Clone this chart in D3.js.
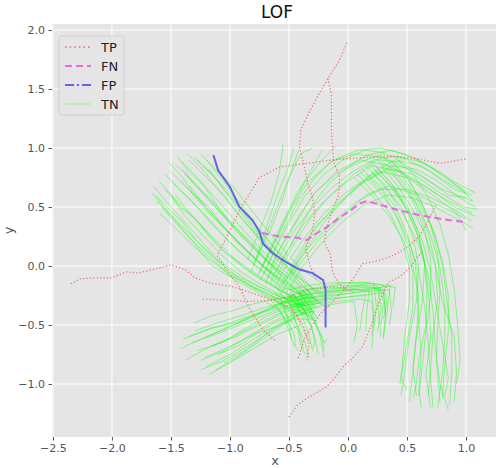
<!DOCTYPE html>
<html><head><meta charset="utf-8">
<script src="https://cdn.jsdelivr.net/npm/d3@7"></script>
<style>body{margin:0;background:#fff;}svg{display:block;font-family:"DejaVu Sans",sans-serif;}</style>
</head><body><svg id="c" width="496" height="468"></svg>
<script>
// ---- data ----
const xTicks = [-2.5,-2.0,-1.5,-1.0,-0.5,0.0,0.5,1.0];
const yTicks = [-1.0,-0.5,0.0,0.5,1.0,1.5,2.0];
const legendLabels = ["TP","FN","FP","TN"];

const fpTrack = [[-1.14,0.94],[-1.10,0.81],[-1.0,0.67],[-0.92,0.5],[-0.81,0.39],[-0.75,0.29],[-0.72,0.19],[-0.64,0.11],[-0.52,0.03],[-0.41,-0.03],[-0.3,-0.06],[-0.21,-0.12],[-0.19,-0.2],[-0.19,-0.31],[-0.19,-0.52]];
const fnTrack = [[-0.73,0.28],[-0.58,0.25],[-0.43,0.24],[-0.35,0.22],[-0.26,0.28],[-0.18,0.33],[-0.07,0.41],[0.02,0.47],[0.1,0.53],[0.16,0.55],[0.27,0.52],[0.44,0.47],[0.61,0.43],[0.78,0.4],[1.01,0.37]];

const tpTracks = [
 [[-2.35,-0.15],[-2.27,-0.11],[-2.18,-0.1],[-2.0,-0.1],[-1.88,-0.05],[-1.78,-0.06],[-1.65,-0.03],[-1.5,0.01],[-1.38,-0.03],[-1.3,-0.1],[-1.15,-0.15],[-1.0,-0.17],[-0.9,-0.2],[-0.75,-0.25],[-0.6,-0.3],[-0.48,-0.36],[-0.38,-0.5],[-0.33,-0.66],[-0.35,-0.8]],
 [[-1.23,-0.28],[-1.03,-0.29],[-0.83,-0.3],[-0.64,-0.29],[-0.49,-0.26],[-0.35,-0.2],[-0.18,-0.18],[-0.07,-0.18],[0.05,-0.22]],
 [[-0.62,-0.63],[-0.72,-0.54],[-0.83,-0.37],[-0.92,-0.18],[-1.03,-0.03],[-1.11,0.09],[-1.04,0.22],[-0.92,0.47],[-0.75,0.75],[-0.58,0.84],[-0.35,0.87],[-0.13,0.9],[0.16,0.92],[0.38,0.93],[0.58,0.91],[0.78,0.87],[1.01,0.91]],
 [[-0.01,1.89],[-0.08,1.73],[-0.17,1.59],[-0.25,1.45],[-0.33,1.3],[-0.4,1.15],[-0.41,1.0],[-0.37,0.85],[-0.34,0.7],[-0.3,0.58],[-0.28,0.45],[-0.3,0.3],[-0.36,0.15],[-0.32,0.0],[-0.27,-0.12]],
 [[-0.17,1.59],[-0.14,1.45],[-0.14,1.3],[-0.14,1.15],[-0.13,1.0],[-0.12,0.88],[-0.07,0.75],[-0.08,0.6],[-0.14,0.45],[-0.18,0.33],[-0.2,0.2],[-0.15,0.1],[-0.13,-0.05],[-0.08,-0.15],[-0.03,-0.18]],
 [[-0.5,-1.28],[-0.43,-1.18],[-0.36,-1.13],[-0.28,-1.08],[-0.19,-1.03],[-0.13,-0.97],[-0.03,-0.84],[0.02,-0.8],[0.12,-0.69],[0.19,-0.52],[0.27,-0.29],[0.34,-0.14],[0.44,-0.09],[0.53,-0.01],[0.59,0.08],[0.63,0.11]],
 [[-0.42,-0.78],[-0.37,-0.62],[-0.3,-0.5],[-0.23,-0.4],[-0.15,-0.32],[-0.05,-0.22],[0.05,-0.1],[0.12,0.02],[0.19,0.03],[0.27,0.05],[0.36,0.08],[0.44,0.12],[0.5,0.16],[0.55,0.2],[0.61,0.26],[0.67,0.36],[0.71,0.45],[0.75,0.53]]
];

// TN: upper-left bundle
const tnUpperLeft = [
 [[-1.65,0.68],[-1.5,0.5],[-1.3,0.28],[-1.1,0.05],[-0.85,-0.12],[-0.6,-0.25],[-0.4,-0.33]],
 [[-1.6,0.72],[-1.45,0.55],[-1.25,0.35],[-1.05,0.12],[-0.8,-0.05],[-0.55,-0.22],[-0.35,-0.3]],
 [[-1.55,0.78],[-1.4,0.62],[-1.2,0.42],[-1.0,0.2],[-0.78,0.0],[-0.55,-0.18],[-0.3,-0.28]],
 [[-1.5,0.8],[-1.35,0.65],[-1.18,0.45],[-0.98,0.25],[-0.75,0.02],[-0.5,-0.2],[-0.35,-0.4]],
 [[-1.45,0.85],[-1.3,0.7],[-1.12,0.5],[-0.95,0.3],[-0.7,0.05],[-0.5,-0.15],[-0.25,-0.3]],
 [[-1.4,0.88],[-1.25,0.72],[-1.1,0.55],[-0.9,0.32],[-0.68,0.08],[-0.45,-0.12],[-0.28,-0.35]],
 [[-1.35,0.9],[-1.2,0.75],[-1.05,0.6],[-0.88,0.38],[-0.65,0.12],[-0.45,-0.08],[-0.2,-0.25]],
 [[-1.3,0.92],[-1.18,0.8],[-1.0,0.62],[-0.85,0.42],[-0.62,0.15],[-0.42,-0.05],[-0.3,-0.2]],
 [[-1.25,0.95],[-1.12,0.82],[-0.98,0.68],[-0.8,0.45],[-0.6,0.2],[-0.42,0.0],[-0.22,-0.15]],
 [[-1.62,0.55],[-1.45,0.38],[-1.25,0.18],[-1.05,-0.02],[-0.8,-0.18],[-0.55,-0.3],[-0.35,-0.38]],
 [[-1.58,0.5],[-1.4,0.3],[-1.2,0.1],[-1.0,-0.08],[-0.75,-0.2],[-0.5,-0.32],[-0.3,-0.45]],
 [[-1.66,0.62],[-1.52,0.45],[-1.35,0.25],[-1.15,0.0],[-0.9,-0.15],[-0.65,-0.28],[-0.45,-0.4]],
 [[-1.48,0.7],[-1.32,0.55],[-1.15,0.35],[-0.95,0.15],[-0.72,-0.05],[-0.5,-0.25],[-0.32,-0.5]],
 [[-1.38,0.78],[-1.22,0.6],[-1.05,0.42],[-0.85,0.2],[-0.62,-0.02],[-0.42,-0.22],[-0.25,-0.45]],
 [[-1.2,0.9],[-1.08,0.75],[-0.95,0.58],[-0.78,0.35],[-0.58,0.1],[-0.4,-0.1],[-0.28,-0.3]],
 [[-1.42,0.72],[-1.28,0.58],[-1.1,0.38],[-0.92,0.18],[-0.7,-0.02],[-0.48,-0.2],[-0.3,-0.32]],
 [[-1.63,0.6],[-1.52,0.48],[-1.4,0.37],[-1.27,0.2],[-1.12,0.06],[-0.95,-0.08],[-0.75,-0.18],[-0.55,-0.27],[-0.38,-0.3]],
 [[-1.55,0.65],[-1.42,0.5],[-1.3,0.4],[-1.15,0.22],[-1.0,0.08],[-0.82,-0.06],[-0.62,-0.18],[-0.45,-0.28],[-0.3,-0.38]],
 [[-1.52,0.88],[-1.4,0.75],[-1.3,0.6],[-1.18,0.5],[-1.05,0.33],[-0.9,0.18],[-0.72,0.0],[-0.55,-0.12],[-0.38,-0.25]],
 [[-1.44,0.92],[-1.35,0.8],[-1.22,0.68],[-1.1,0.5],[-0.98,0.35],[-0.82,0.2],[-0.66,0.02],[-0.5,-0.1],[-0.33,-0.22]],
 [[-1.36,0.95],[-1.25,0.84],[-1.14,0.7],[-1.02,0.55],[-0.9,0.4],[-0.75,0.22],[-0.6,0.05],[-0.45,-0.1],[-0.3,-0.25]],
 [[-1.28,0.9],[-1.15,0.78],[-1.05,0.65],[-0.92,0.5],[-0.8,0.33],[-0.66,0.15],[-0.5,-0.02],[-0.35,-0.15],[-0.2,-0.28]],
 [[-1.6,0.45],[-1.46,0.32],[-1.32,0.18],[-1.18,0.06],[-1.02,-0.06],[-0.85,-0.16],[-0.68,-0.25],[-0.5,-0.35],[-0.33,-0.42]],
 [[-1.46,0.6],[-1.34,0.45],[-1.2,0.3],[-1.06,0.16],[-0.9,0.0],[-0.72,-0.12],[-0.55,-0.22],[-0.4,-0.35],[-0.27,-0.48]],
 [[-1.34,0.68],[-1.22,0.52],[-1.08,0.36],[-0.95,0.22],[-0.8,0.08],[-0.62,-0.08],[-0.45,-0.2],[-0.3,-0.3],[-0.15,-0.35]],
 [[-1.18,0.82],[-1.06,0.66],[-0.94,0.5],[-0.82,0.33],[-0.68,0.16],[-0.52,0.0],[-0.4,-0.15],[-0.25,-0.3]],
 [[-1.5,0.6],[-1.38,0.42],[-1.22,0.25],[-1.08,0.1],[-0.92,-0.04],[-0.75,-0.15],[-0.58,-0.24],[-0.42,-0.34],[-0.28,-0.4]],
 [[-1.4,0.82],[-1.3,0.7],[-1.16,0.56],[-1.02,0.4],[-0.88,0.25],[-0.72,0.08],[-0.56,-0.06],[-0.4,-0.2],[-0.22,-0.32]]
];
// TN: lower-left bundle
const tnLowerLeft = [
 [[-1.3,-0.55],[-1.1,-0.48],[-0.9,-0.42],[-0.7,-0.35],[-0.5,-0.3],[-0.3,-0.25]],
 [[-1.32,-0.65],[-1.12,-0.58],[-0.92,-0.5],[-0.72,-0.42],[-0.52,-0.34],[-0.32,-0.3]],
 [[-1.28,-0.72],[-1.08,-0.65],[-0.88,-0.55],[-0.68,-0.45],[-0.48,-0.35],[-0.28,-0.32]],
 [[-1.25,-0.8],[-1.05,-0.72],[-0.85,-0.6],[-0.65,-0.48],[-0.45,-0.38],[-0.25,-0.35]],
 [[-1.25,-0.88],[-1.05,-0.8],[-0.85,-0.68],[-0.65,-0.55],[-0.45,-0.42],[-0.3,-0.38]],
 [[-1.2,-0.85],[-1.0,-0.75],[-0.8,-0.62],[-0.6,-0.5],[-0.42,-0.38],[-0.22,-0.3]],
 [[-1.15,-0.68],[-0.95,-0.6],[-0.75,-0.5],[-0.55,-0.4],[-0.35,-0.33]],
 [[-1.35,-0.6],[-1.15,-0.52],[-0.95,-0.48],[-0.75,-0.4],[-0.55,-0.32],[-0.35,-0.27]],
 [[-1.22,-0.78],[-1.0,-0.68],[-0.8,-0.58],[-0.62,-0.52],[-0.45,-0.45],[-0.3,-0.45]],
 [[-1.18,-0.92],[-1.0,-0.82],[-0.8,-0.7],[-0.6,-0.58],[-0.4,-0.5]],
 [[-1.42,-0.7],[-1.25,-0.62],[-1.08,-0.55],[-0.9,-0.47],[-0.72,-0.38],[-0.55,-0.3],[-0.38,-0.25]],
 [[-1.38,-0.8],[-1.2,-0.7],[-1.02,-0.62],[-0.85,-0.52],[-0.68,-0.42],[-0.5,-0.35],[-0.35,-0.3]],
 [[-1.3,-0.48],[-1.15,-0.42],[-0.98,-0.38],[-0.8,-0.32],[-0.62,-0.28],[-0.45,-0.25]],
 [[-1.12,-0.88],[-0.95,-0.78],[-0.78,-0.66],[-0.62,-0.55],[-0.48,-0.45],[-0.35,-0.38]],
 [[-1.2,-0.6],[-1.02,-0.52],[-0.85,-0.45],[-0.68,-0.38],[-0.5,-0.33],[-0.32,-0.32]],
 [[-1.05,-0.82],[-0.88,-0.72],[-0.72,-0.6],[-0.58,-0.5],[-0.42,-0.42],[-0.28,-0.38]],
 [[-1.4,-0.62],[-1.22,-0.55],[-1.05,-0.5],[-0.88,-0.44],[-0.7,-0.38],[-0.52,-0.3]],
 [[-1.1,-0.75],[-0.92,-0.67],[-0.76,-0.56],[-0.6,-0.47],[-0.44,-0.4],[-0.3,-0.36]]
];
// TN: downward from the junction
const tnDown = [
 [[-0.6,-0.2],[-0.5,-0.3],[-0.45,-0.45],[-0.4,-0.6],[-0.38,-0.7]],
 [[-0.55,-0.18],[-0.45,-0.3],[-0.38,-0.45],[-0.33,-0.58],[-0.3,-0.72]],
 [[-0.5,-0.22],[-0.4,-0.32],[-0.32,-0.48],[-0.28,-0.62],[-0.25,-0.75]],
 [[-0.65,-0.25],[-0.55,-0.35],[-0.5,-0.48],[-0.45,-0.6],[-0.45,-0.68]],
 [[-0.45,-0.25],[-0.35,-0.35],[-0.28,-0.48],[-0.22,-0.6],[-0.2,-0.72]],
 [[-0.58,-0.3],[-0.48,-0.4],[-0.42,-0.52],[-0.36,-0.66],[-0.33,-0.78]],
 [[-0.7,-0.3],[-0.58,-0.38],[-0.5,-0.5],[-0.48,-0.62]],
 [[-0.4,-0.28],[-0.32,-0.4],[-0.25,-0.55],[-0.2,-0.65],[-0.18,-0.62]],
 [[-0.62,-0.22],[-0.55,-0.32],[-0.5,-0.45],[-0.42,-0.55],[-0.4,-0.68],[-0.36,-0.75]],
 [[-0.48,-0.2],[-0.42,-0.3],[-0.35,-0.42],[-0.3,-0.55],[-0.28,-0.65],[-0.3,-0.7]],
 [[-0.55,-0.25],[-0.46,-0.36],[-0.4,-0.5],[-0.35,-0.6],[-0.32,-0.65]],
 [[-0.42,-0.22],[-0.34,-0.32],[-0.28,-0.45],[-0.24,-0.58],[-0.22,-0.68],[-0.2,-0.78]],
 [[-0.66,-0.28],[-0.56,-0.4],[-0.5,-0.55],[-0.46,-0.66],[-0.42,-0.72]]
];
// TN: horizontal, hooking down
const tnRightLow = [
 [[-0.5,-0.25],[-0.3,-0.2],[-0.1,-0.17],[0.1,-0.16],[0.25,-0.17],[0.28,-0.35],[0.25,-0.55]],
 [[-0.45,-0.3],[-0.25,-0.25],[-0.05,-0.2],[0.15,-0.18],[0.3,-0.2],[0.32,-0.4],[0.3,-0.6]],
 [[-0.55,-0.28],[-0.35,-0.24],[-0.15,-0.22],[0.05,-0.2],[0.2,-0.22],[0.22,-0.4],[0.2,-0.6]],
 [[-0.5,-0.32],[-0.3,-0.3],[-0.1,-0.25],[0.1,-0.22],[0.35,-0.2],[0.37,-0.38],[0.35,-0.5]],
 [[-0.45,-0.22],[-0.25,-0.18],[-0.05,-0.15],[0.15,-0.14],[0.3,-0.16],[0.33,-0.3],[0.3,-0.45]],
 [[-0.48,-0.35],[-0.28,-0.32],[-0.08,-0.3],[0.1,-0.28],[0.2,-0.3],[0.22,-0.5],[0.2,-0.7]],
 [[-0.52,-0.27],[-0.3,-0.27],[-0.1,-0.23],[0.08,-0.2],[0.28,-0.18],[0.25,-0.3],[0.28,-0.6]],
 [[-0.4,-0.3],[-0.2,-0.28],[0.0,-0.26],[0.15,-0.24],[0.12,-0.4],[0.1,-0.55]],
 [[-0.42,-0.24],[-0.22,-0.2],[-0.02,-0.18],[0.18,-0.15],[0.4,-0.18],[0.38,-0.35]],
 [[-0.5,-0.3],[-0.3,-0.35],[-0.1,-0.32],[0.05,-0.3],[0.08,-0.5],[0.05,-0.65]],
 [[-0.46,-0.27],[-0.26,-0.22],[-0.06,-0.19],[0.12,-0.17],[0.27,-0.19],[0.3,-0.3],[0.28,-0.5]],
 [[-0.5,-0.2],[-0.3,-0.16],[-0.1,-0.14],[0.08,-0.14],[0.22,-0.15],[0.24,-0.35],[0.22,-0.52]],
 [[-0.44,-0.33],[-0.24,-0.3],[-0.04,-0.27],[0.14,-0.25],[0.3,-0.22],[0.32,-0.45],[0.3,-0.62]],
 [[-0.55,-0.3],[-0.35,-0.28],[-0.15,-0.25],[0.03,-0.23],[0.18,-0.2],[0.16,-0.38],[0.15,-0.55]],
 [[-0.4,-0.26],[-0.2,-0.22],[0.0,-0.2],[0.2,-0.2],[0.36,-0.16],[0.34,-0.3],[0.33,-0.42]]
];
// TN: arc going up and to the right
const tnArc = [
 [[-0.7,-0.15],[-0.6,0.1],[-0.45,0.35],[-0.3,0.6],[-0.1,0.8],[0.1,0.9],[0.35,0.85],[0.6,0.7],[0.85,0.55],[1.05,0.45]],
 [[-0.65,-0.1],[-0.52,0.12],[-0.38,0.35],[-0.2,0.55],[0.0,0.72],[0.2,0.85],[0.45,0.8],[0.7,0.65],[0.9,0.5],[1.08,0.42]],
 [[-0.75,-0.05],[-0.62,0.2],[-0.5,0.45],[-0.35,0.7],[-0.15,0.88],[0.05,0.95],[0.3,0.92],[0.55,0.8],[0.8,0.65],[1.05,0.55]],
 [[-0.6,-0.2],[-0.45,0.05],[-0.3,0.3],[-0.12,0.5],[0.08,0.68],[0.28,0.8],[0.5,0.75],[0.72,0.6],[0.92,0.45],[1.0,0.3]],
 [[-0.55,-0.15],[-0.4,0.1],[-0.25,0.35],[-0.05,0.55],[0.15,0.72],[0.35,0.82],[0.55,0.78],[0.78,0.62],[0.98,0.5],[1.1,0.48]],
 [[-0.8,0.0],[-0.7,0.25],[-0.6,0.5],[-0.5,0.75],[-0.4,0.95],[-0.3,1.0]],
 [[-0.78,0.05],[-0.66,0.3],[-0.56,0.55],[-0.48,0.8],[-0.42,0.98]],
 [[-0.72,0.0],[-0.6,0.25],[-0.48,0.5],[-0.36,0.72],[-0.22,0.9],[-0.1,1.02]],
 [[-0.68,-0.05],[-0.55,0.2],[-0.42,0.42],[-0.28,0.62],[-0.1,0.78],[0.1,0.88],[0.3,0.95],[0.5,0.9],[0.7,0.8],[0.9,0.65],[1.05,0.6]],
 [[-0.62,-0.12],[-0.48,0.15],[-0.32,0.4],[-0.15,0.6],[0.05,0.78],[0.25,0.9],[0.45,0.88],[0.65,0.75],[0.85,0.6],[1.0,0.58]],
 [[-0.58,-0.25],[-0.42,0.0],[-0.25,0.22],[-0.05,0.42],[0.15,0.6],[0.35,0.68],[0.6,0.6],[0.8,0.5],[1.0,0.4]],
 [[-0.85,0.05],[-0.75,0.3],[-0.65,0.55],[-0.58,0.8],[-0.55,1.03]],
 [[-0.5,-0.1],[-0.35,0.15],[-0.18,0.4],[0.0,0.6],[0.2,0.78],[0.4,0.9],[0.62,0.85],[0.82,0.72],[1.0,0.62]],
 [[-0.68,-0.1],[-0.56,0.12],[-0.44,0.32],[-0.3,0.5],[-0.14,0.66],[0.04,0.8],[0.22,0.9],[0.42,0.93],[0.62,0.88],[0.8,0.78],[0.96,0.65],[1.06,0.55]],
 [[-0.62,-0.18],[-0.5,0.05],[-0.36,0.25],[-0.2,0.45],[-0.02,0.62],[0.18,0.76],[0.38,0.85],[0.58,0.82],[0.76,0.72],[0.94,0.58],[1.08,0.5]],
 [[-0.74,-0.12],[-0.64,0.1],[-0.54,0.32],[-0.42,0.55],[-0.28,0.75],[-0.12,0.9],[0.08,0.98],[0.28,1.0],[0.48,0.95],[0.68,0.85],[0.86,0.72],[1.02,0.62]],
 [[-0.58,-0.2],[-0.44,0.02],[-0.28,0.22],[-0.1,0.4],[0.08,0.55],[0.28,0.65],[0.5,0.65],[0.7,0.58],[0.9,0.48],[1.05,0.38]],
 [[-0.82,-0.05],[-0.74,0.18],[-0.66,0.42],[-0.58,0.65],[-0.5,0.85],[-0.46,1.0]],
 [[-0.76,-0.08],[-0.66,0.15],[-0.55,0.38],[-0.44,0.6],[-0.32,0.8],[-0.22,0.98]],
 [[-0.66,-0.15],[-0.54,0.08],[-0.42,0.3],[-0.3,0.52],[-0.16,0.7],[0.0,0.84],[0.16,0.94],[0.36,0.98],[0.56,0.92],[0.74,0.82],[0.92,0.7],[1.08,0.62]],
 [[-0.52,-0.22],[-0.38,0.0],[-0.22,0.2],[-0.04,0.38],[0.14,0.52],[0.34,0.6],[0.54,0.58],[0.74,0.5],[0.92,0.4],[1.06,0.32]],
 [[-0.7,-0.05],[-0.6,0.18],[-0.48,0.4],[-0.36,0.6],[-0.2,0.78],[-0.04,0.9],[0.14,0.98],[0.32,0.96]]
];
// TN: right bundle going down
const tnRightDown = [
 [[0.15,0.85],[0.3,0.7],[0.45,0.5],[0.55,0.25],[0.6,0.0],[0.58,-0.3],[0.52,-0.6],[0.48,-0.9],[0.45,-1.1]],
 [[0.2,0.88],[0.35,0.72],[0.5,0.52],[0.6,0.28],[0.65,0.02],[0.63,-0.3],[0.58,-0.6],[0.55,-0.9],[0.52,-1.15]],
 [[0.25,0.9],[0.4,0.75],[0.55,0.55],[0.65,0.3],[0.7,0.05],[0.7,-0.25],[0.66,-0.55],[0.63,-0.85],[0.6,-1.1]],
 [[0.1,0.8],[0.25,0.65],[0.4,0.45],[0.52,0.2],[0.6,-0.05],[0.65,-0.35],[0.68,-0.65],[0.7,-0.95],[0.72,-1.2]],
 [[0.3,0.92],[0.45,0.78],[0.58,0.58],[0.7,0.35],[0.76,0.1],[0.78,-0.2],[0.76,-0.5],[0.75,-0.8],[0.78,-1.15]],
 [[0.35,0.9],[0.5,0.75],[0.62,0.55],[0.72,0.3],[0.8,0.05],[0.85,-0.25],[0.85,-0.55],[0.82,-0.85],[0.8,-1.12]],
 [[0.2,0.8],[0.35,0.62],[0.48,0.42],[0.6,0.18],[0.68,-0.08],[0.72,-0.38],[0.74,-0.7],[0.78,-1.0],[0.85,-1.22]],
 [[0.05,0.75],[0.2,0.6],[0.35,0.42],[0.48,0.2],[0.55,-0.05],[0.55,-0.35],[0.5,-0.65],[0.45,-0.95],[0.5,-1.05]],
 [[0.28,0.85],[0.42,0.68],[0.55,0.48],[0.66,0.25],[0.74,0.0],[0.8,-0.3],[0.9,-0.6],[0.92,-0.9],[0.9,-1.15]],
 [[0.4,0.92],[0.55,0.78],[0.68,0.58],[0.78,0.35],[0.85,0.1],[0.9,-0.2],[0.93,-0.5],[0.95,-0.8],[0.92,-1.0]],
 [[0.15,0.78],[0.3,0.62],[0.42,0.4],[0.52,0.15],[0.58,-0.15],[0.6,-0.45],[0.62,-0.75],[0.6,-1.05],[0.62,-1.2]],
 [[0.22,0.82],[0.38,0.66],[0.52,0.46],[0.63,0.22],[0.7,-0.05],[0.75,-0.35],[0.8,-0.65],[0.85,-0.95],[0.82,-1.1]],
 [[0.18,0.86],[0.32,0.72],[0.46,0.54],[0.57,0.32],[0.64,0.08],[0.67,-0.2],[0.66,-0.5],[0.6,-0.8],[0.58,-1.0],[0.55,-1.12]],
 [[0.3,0.88],[0.44,0.72],[0.58,0.52],[0.68,0.28],[0.74,0.02],[0.76,-0.28],[0.72,-0.58],[0.7,-0.88],[0.68,-1.1]],
 [[0.12,0.82],[0.27,0.68],[0.4,0.5],[0.5,0.28],[0.57,0.02],[0.6,-0.28],[0.58,-0.58],[0.55,-0.85],[0.58,-1.1]],
 [[0.38,0.88],[0.52,0.72],[0.64,0.5],[0.74,0.26],[0.8,0.0],[0.84,-0.3],[0.88,-0.6],[0.88,-0.9],[0.86,-1.18]],
 [[0.24,0.84],[0.38,0.68],[0.5,0.48],[0.6,0.24],[0.66,-0.02],[0.69,-0.32],[0.7,-0.62],[0.66,-0.92],[0.7,-1.2]],
 [[0.08,0.78],[0.22,0.62],[0.36,0.44],[0.46,0.22],[0.52,-0.02],[0.52,-0.3],[0.48,-0.6],[0.46,-0.85],[0.44,-1.0]],
 [[0.34,0.86],[0.48,0.7],[0.6,0.5],[0.7,0.26],[0.78,-0.02],[0.82,-0.32],[0.82,-0.62],[0.8,-0.92],[0.76,-1.2]]
];
const tnTracks = [].concat(tnUpperLeft, tnLowerLeft, tnDown, tnRightLow, tnArc, tnRightDown);

// ---- drawing ----
const svg = d3.select("#c");
const L = 52, R = 502, T = 24, B = 437;
const x = d3.scaleLinear().domain([-2.508, 1.305]).range([L, R]);
const y = d3.scaleLinear().domain([-1.449, 2.051]).range([B, T]);

svg.append("defs").append("clipPath").attr("id","clip")
  .append("rect").attr("x",L).attr("y",T).attr("width",R-L).attr("height",B-T);

svg.append("rect").attr("x",L).attr("y",T).attr("width",R-L).attr("height",B-T).attr("fill","#e5e5e5");

const grid = svg.append("g");
xTicks.forEach(v=>grid.append("line").attr("x1",x(v)).attr("x2",x(v)).attr("y1",T).attr("y2",B).attr("stroke","#fff").attr("stroke-width",1));
yTicks.forEach(v=>grid.append("line").attr("y1",y(v)).attr("y2",y(v)).attr("x1",L).attr("x2",R).attr("stroke","#fff").attr("stroke-width",1));

const fmt = v => d3.format(".1f")(v).replace("-","\u2212");
const xAxis = svg.append("g").attr("transform",`translate(0,${B})`)
  .call(d3.axisBottom(x).tickValues(xTicks).tickFormat(fmt).tickSize(3.5).tickPadding(3.5));
const yAxis = svg.append("g").attr("transform",`translate(${L},0)`)
  .call(d3.axisLeft(y).tickValues(yTicks).tickFormat(fmt).tickSize(3.5).tickPadding(3.5));
[xAxis,yAxis].forEach(a=>{
  a.select(".domain").remove();
  a.selectAll(".tick line").attr("stroke","#555");
  a.selectAll(".tick text").attr("fill","#555").style("font-size","11px").style("font-family","DejaVu Sans");
});

const line = d3.line().x(d=>x(d[0])).y(d=>y(d[1]));
const plot = svg.append("g").attr("clip-path","url(#clip)");

plot.selectAll(".tn").data(tnTracks).join("path").attr("class","tn")
  .attr("d",line).attr("fill","none").attr("stroke","#00ff00").attr("stroke-opacity",0.4).attr("stroke-width",1);

plot.selectAll(".tp").data(tpTracks).join("path").attr("class","tp")
  .attr("d",line).attr("fill","none").attr("stroke","#f06a6a").attr("stroke-width",1.2)
  .attr("stroke-dasharray","1.2,2.2");

plot.append("path").datum(fnTrack).attr("d",line).attr("fill","none")
  .attr("stroke","#e868e8").attr("stroke-width",2).attr("stroke-dasharray","7,4");

plot.append("path").datum(fpTrack).attr("d",line).attr("fill","none")
  .attr("stroke","#6464e6").attr("stroke-width",2);

// title & labels
svg.append("text").attr("x",(L+R)/2).attr("y",18).attr("text-anchor","middle")
  .style("font-size","17px").attr("fill","#111").text("LOF");
svg.append("text").attr("x",(L+R)/2 - 2).attr("y",465).attr("text-anchor","middle")
  .style("font-size","13px").attr("fill","#555").text("x");
svg.append("text").attr("transform",`translate(13,${(T+B)/2}) rotate(-90)`).attr("text-anchor","middle")
  .style("font-size","13px").attr("fill","#555").text("y");

// legend
const lg = svg.append("g");
lg.append("rect").attr("x",59).attr("y",36).attr("width",65).attr("height",79).attr("rx",2)
  .attr("fill","#e5e5e5").attr("fill-opacity",0.85).attr("stroke","#cccccc").attr("stroke-width",0.8);
const legendStyles = [
  {c:"#f06a6a", w:1.6, dash:"1.6,3"},
  {c:"#e868e8", w:2, dash:"7,4"},
  {c:"#6464e6", w:2, dash:"9,3,2,3"},
  {c:"#00ff00", w:1, dash:null, op:0.3}
];
legendLabels.forEach((t,i)=>{
  const yy = 47 + i*19;
  const s = legendStyles[i];
  const ln = lg.append("line").attr("x1",65).attr("x2",91).attr("y1",yy).attr("y2",yy)
    .attr("stroke",s.c).attr("stroke-width",s.w);
  if (s.dash) ln.attr("stroke-dasharray",s.dash);
  if (s.op) ln.attr("stroke-opacity",s.op);
  lg.append("text").attr("x",101).attr("y",yy+5).style("font-size","13px").attr("fill","#222").text(t);
});
</script></body></html>
